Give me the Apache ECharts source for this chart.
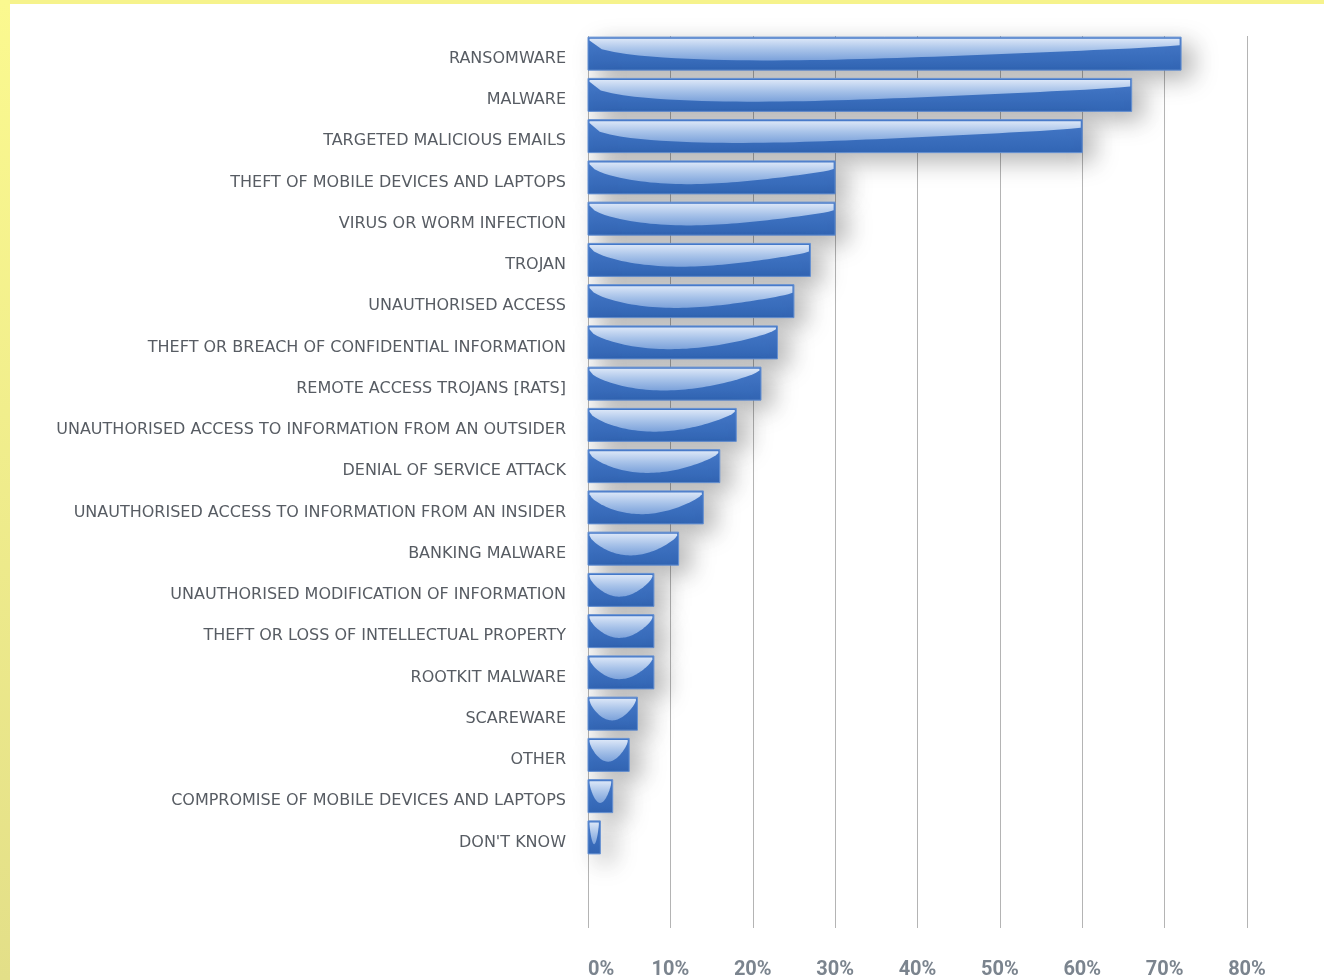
<!DOCTYPE html>
<html>
<head>
<meta charset="utf-8">
<title>Threat types</title>
<script src="https://cdn.jsdelivr.net/npm/echarts@6/dist/echarts.min.js"></script>
<style>
  html, body { margin: 0; padding: 0; background: #ffffff; }
  #chart { width: 1324px; height: 980px; }
</style>
</head>
<body>
<div id="chart"></div>
<script>
// Threat categories, top to bottom
const categories = [
  "RANSOMWARE",
  "MALWARE",
  "TARGETED MALICIOUS EMAILS",
  "THEFT OF MOBILE DEVICES AND LAPTOPS",
  "VIRUS OR WORM INFECTION",
  "TROJAN",
  "UNAUTHORISED ACCESS",
  "THEFT OR BREACH OF CONFIDENTIAL INFORMATION",
  "REMOTE ACCESS TROJANS [RATS]",
  "UNAUTHORISED ACCESS TO INFORMATION FROM AN OUTSIDER",
  "DENIAL OF SERVICE ATTACK",
  "UNAUTHORISED ACCESS TO INFORMATION FROM AN INSIDER",
  "BANKING MALWARE",
  "UNAUTHORISED MODIFICATION OF INFORMATION",
  "THEFT OR LOSS OF INTELLECTUAL PROPERTY",
  "ROOTKIT MALWARE",
  "SCAREWARE",
  "OTHER",
  "COMPROMISE OF MOBILE DEVICES AND LAPTOPS",
  "DON'T KNOW"
];

// Share of respondents (%)
const shares = [72, 66, 60, 30, 30, 27, 25, 23, 21, 18, 16, 14, 11, 8, 8, 8, 6, 5, 3, 1.5];

// Percentage axis ticks
const axisMin = 0;
const axisMax = 80;
const axisStep = 10;

const chart = echarts.init(document.getElementById('chart'), null, { renderer: 'canvas' });

// Glossy bar: solid blue body plus a curved light highlight in its upper part
function renderGlossBar(params, api) {
  const value = api.value(0);
  const cat = api.value(1);
  const p0 = api.coord([0, cat]);
  const p1 = api.coord([value, cat]);
  const band = api.size([0, 1])[1];
  const h = band * 0.8;
  const x = p0[0];
  const y = p0[1] - h / 2;
  const w = p1[0] - p0[0];

  // wide bars get a lopsided highlight, narrow ones a rounded bowl
  const skew = 1 - 0.42 * Math.min(1, w / 450);
  const inset = 1.5;
  const steps = 48;
  const pts = [];
  for (let i = 0; i <= steps; i++) {
    const t = i / steps;
    pts.push([x + inset + t * (w - 2 * inset), y + inset]);
  }
  for (let i = steps; i >= 0; i--) {
    const t = i / steps;
    const u = Math.pow(t, skew);
    const d = Math.pow(Math.sin(Math.PI * u), 0.75);
    const edge = t < 0.5 ? 0.06 : 0.06 + 0.14 * (t - 0.5) * 2 * (w > 200 ? 1 : 0);
    pts.push([x + inset + t * (w - 2 * inset), y + inset + h * (edge + d * (0.66 - edge))]);
  }

  return {
    type: 'group',
    children: [
      {
        type: 'rect',
        shape: { x: x, y: y, width: w, height: h },
        style: {
          fill: new echarts.graphic.LinearGradient(0, 0, 0, 1, [
            { offset: 0, color: '#477bcb' },
            { offset: 1, color: '#3266b6' }
          ]),
          stroke: '#6590d2',
          lineWidth: 1,
          shadowBlur: 24,
          shadowOffsetX: 11,
          shadowOffsetY: 8,
          shadowColor: 'rgba(0,0,0,0.3)'
        }
      },
      {
        type: 'polygon',
        shape: { points: pts },
        style: {
          fill: new echarts.graphic.LinearGradient(0, 0, 0, 1, [
            { offset: 0, color: 'rgba(224,234,249,0.97)' },
            { offset: 0.5, color: 'rgba(176,201,236,0.93)' },
            { offset: 1, color: 'rgba(134,170,223,0.88)' }
          ])
        }
      }
    ]
  };
}

const option = {
  animation: false,
  backgroundColor: '#ffffff',
  graphic: [
    {
      type: 'rect',
      left: 0, top: 0,
      shape: { width: 1324, height: 4 },
      style: { fill: '#f6f38c' },
      z: 100
    },
    {
      type: 'rect',
      left: 0, top: 0,
      shape: { width: 10, height: 980 },
      style: {
        fill: new echarts.graphic.LinearGradient(0, 0, 0, 1, [
          { offset: 0, color: '#fbf98f' },
          { offset: 1, color: '#e3df88' }
        ])
      },
      z: 100
    }
  ],
  grid: [
    { left: 588, right: 77, top: 33, height: 825 },
    { left: 588, right: 77, top: 36, bottom: 52 }
  ],
  xAxis: [
    {
      gridIndex: 0,
      type: 'value',
      min: axisMin, max: axisMax, interval: axisStep,
      show: false
    },
    {
      gridIndex: 1,
      type: 'value',
      min: axisMin, max: axisMax, interval: axisStep,
      axisLine: { show: false },
      axisTick: { show: false },
      splitLine: { show: true, lineStyle: { color: '#b4b4b4', width: 1 } },
      axisLabel: {
        margin: 32,
        alignMinLabel: 'left',
        formatter: '{value}%',
        color: '#7b848e',
        fontSize: 20,
        fontWeight: 'bold',
        fontFamily: 'Roboto, sans-serif'
      }
    }
  ],
  yAxis: [
    {
      gridIndex: 0,
      type: 'category',
      data: categories,
      inverse: true,
      axisLine: { show: false },
      axisTick: { show: false },
      splitLine: { show: false },
      axisLabel: {
        margin: 22,
        formatter: (name) => '{t|' + name + '}',
        rich: {
          t: {
            color: '#575c63',
            fontSize: 16,
            fontFamily: '"DejaVu Sans", sans-serif',
            padding: [10, 0, 0, 0]
          }
        }
      }
    },
    {
      gridIndex: 1,
      type: 'value',
      min: 0, max: 1,
      show: false
    }
  ],
  series: [
    {
      type: 'custom',
      xAxisIndex: 0,
      yAxisIndex: 0,
      renderItem: renderGlossBar,
      encode: { x: 0, y: 1 },
      data: shares.map((v, i) => [v, i]),
      z: 5
    }
  ]
};

chart.setOption(option);
</script>
</body>
</html>
